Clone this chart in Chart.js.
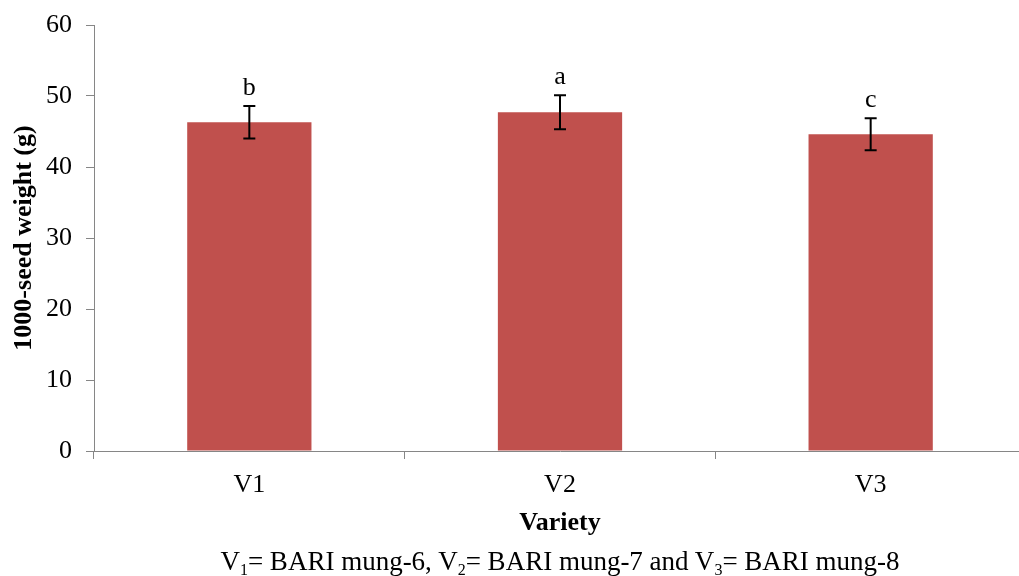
<!DOCTYPE html>
<html lang="en">
<head>
    <meta charset="UTF-8">
    <title>1000-seed weight by variety</title>
    <script src="https://cdn.jsdelivr.net/npm/chart.js"></script>
    <style>
        body {
            margin: 0;
            background: #fff;
            overflow: hidden;
        }

        .wrap {
            position: relative;
            width: 1019px;
            height: 576px;
            overflow: hidden;
        }

        canvas {
            position: absolute;
            left: 0;
            top: 0;
        }

        .note {
            position: absolute;
            left: 0;
            top: 548px;
            width: 1120px;
            text-align: center;
            font-family: "Liberation Serif", "Times New Roman", serif;
            font-size: 27px;
            line-height: 26px;
            color: #000;
            white-space: nowrap;
        }

        .note sub {
            font-size: 16px;
            vertical-align: -5px;
            line-height: 0;
        }
    </style>
</head>
<body>
<div class="wrap">
    <canvas id="seedChart" width="1026" height="576"></canvas>
    <div class="note">V<sub>1</sub>= BARI mung-6, V<sub>2</sub>= BARI mung-7 and V<sub>3</sub>= BARI mung-8</div>
</div>

<script>
    // adatok
    const varieties = ['V1', 'V2', 'V3'];
    const seedWeight = [46.3, 47.7, 44.6];
    const seedError = [2.3, 2.4, 2.25];
    const groupLetters = ['b', 'a', 'c'];
    const yMin = 0;
    const yMax = 60;
    const yStep = 10;

    const serif = '"Liberation Serif", "Times New Roman", serif';
    const axisGray = '#868686';

    // hibasavok + betuk
    const errorBars = {
        id: 'errorBars',
        afterDatasetsDraw(chart) {
            const ctx = chart.ctx;
            const y = chart.scales.y;
            const bars = chart.getDatasetMeta(0).data;
            ctx.save();
            ctx.strokeStyle = '#000';
            ctx.lineWidth = 2;
            ctx.fillStyle = '#000';
            ctx.font = '26px ' + serif;
            ctx.textAlign = 'center';
            ctx.textBaseline = 'alphabetic';
            bars.forEach((bar, i) => {
                const top = y.getPixelForValue(seedWeight[i] + seedError[i]);
                const bot = y.getPixelForValue(seedWeight[i] - seedError[i]);
                ctx.beginPath();
                ctx.moveTo(bar.x, top);
                ctx.lineTo(bar.x, bot);
                ctx.moveTo(bar.x - 6, top);
                ctx.lineTo(bar.x + 6, top);
                ctx.moveTo(bar.x - 6, bot);
                ctx.lineTo(bar.x + 6, bot);
                ctx.stroke();
                ctx.fillText(groupLetters[i], bar.x, top - 11);
            });
            ctx.restore();
        }
    };

    const ctx = document.getElementById('seedChart').getContext('2d');
    new Chart(ctx, {
        type: 'bar',
        data: {
            labels: varieties,
            datasets: [{
                data: seedWeight,
                backgroundColor: '#C0504D',
                borderWidth: 0,
                barPercentage: 0.4,
                categoryPercentage: 1
            }]
        },
        options: {
            responsive: false,
            animation: false,
            layout: {
                padding: { top: 25, right: 0, bottom: 0, left: 0 }
            },
            plugins: {
                legend: { display: false },
                tooltip: { enabled: false }
            },
            scales: {
                x: {
                    afterFit(scale) { scale.height = 125; },
                    border: { color: axisGray, width: 1 },
                    grid: {
                        display: true,
                        drawOnChartArea: false,
                        drawTicks: true,
                        tickLength: 8,
                        color: axisGray,
                        offset: true
                    },
                    ticks: {
                        color: '#000',
                        padding: 11,
                        font: { family: serif, size: 26 }
                    },
                    title: {
                        display: true,
                        text: 'Variety',
                        color: '#000',
                        font: { family: serif, size: 26, weight: 'bold' },
                        padding: { top: 0, bottom: 37 }
                    }
                },
                y: {
                    min: yMin,
                    max: yMax,
                    afterFit(scale) {
                        scale.width = 94;
                        scale.paddingTop = 0;
                        scale.paddingBottom = 0;
                    },
                    border: { color: axisGray, width: 1 },
                    grid: {
                        display: true,
                        drawOnChartArea: false,
                        drawTicks: true,
                        tickLength: 8,
                        color: axisGray
                    },
                    ticks: {
                        stepSize: yStep,
                        color: '#000',
                        padding: 14,
                        font: { family: serif, size: 26 }
                    },
                    title: {
                        display: true,
                        text: '1000-seed weight (g)',
                        color: '#000',
                        font: { family: serif, size: 26, weight: 'bold' },
                        padding: { top: 9, bottom: 0 }
                    }
                }
            }
        },
        plugins: [errorBars]
    });
</script>
</body>
</html>
